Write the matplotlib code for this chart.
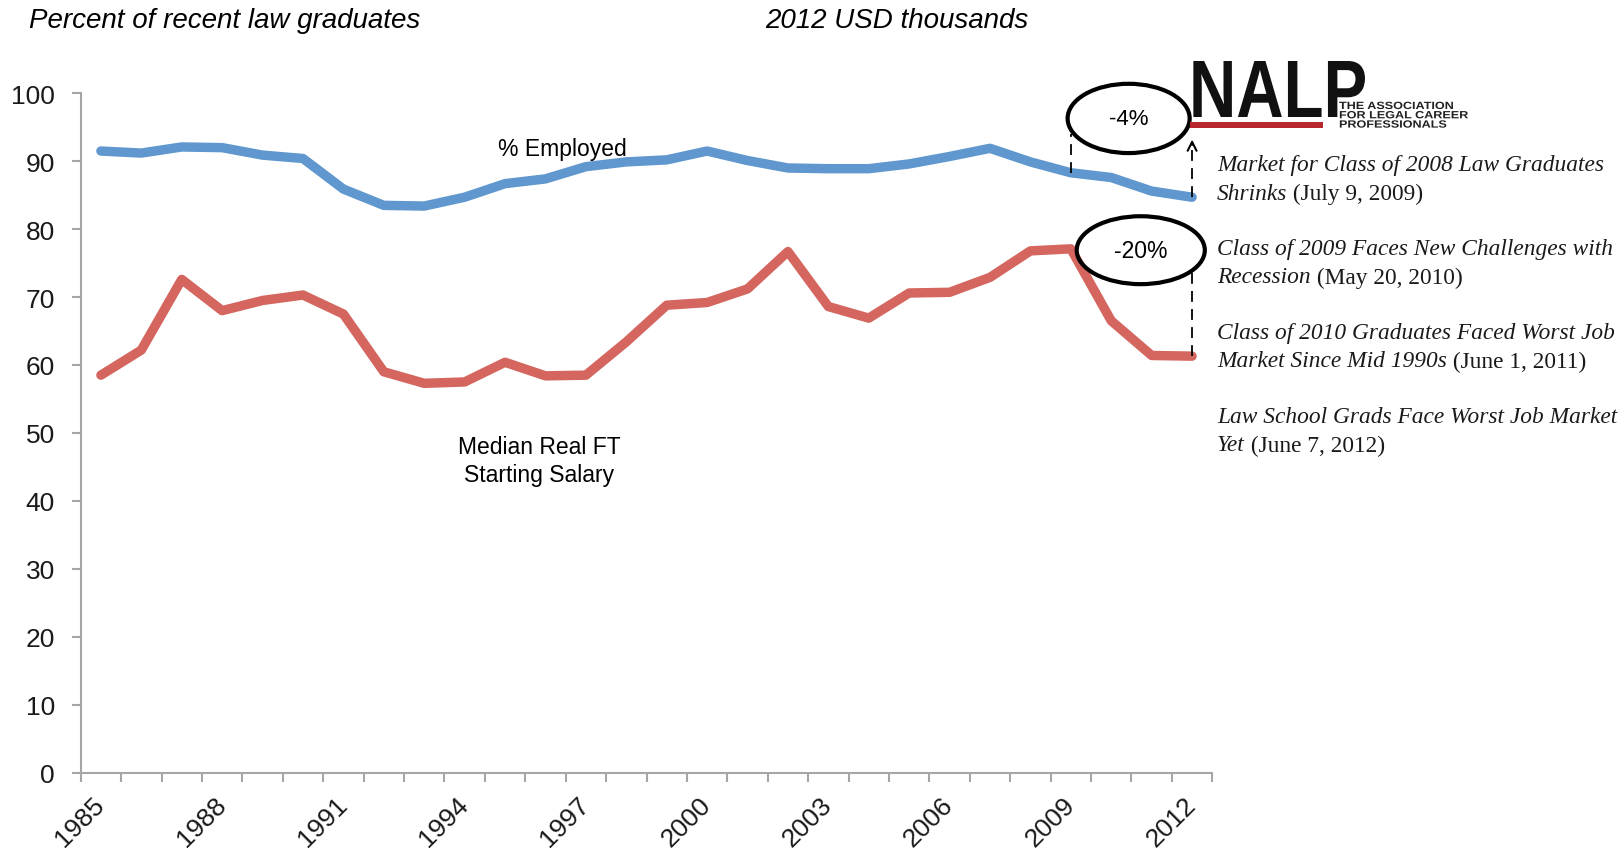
import numpy as np
import matplotlib
matplotlib.use("Agg")
import matplotlib.pyplot as plt
from matplotlib.patches import Ellipse, Rectangle, PathPatch
from matplotlib.textpath import TextPath
from matplotlib.font_manager import FontProperties
from matplotlib.path import Path

# ---------------- data ----------------
years = list(range(1985, 2013))
employed = [91.5, 91.2, 92.1, 92.0, 90.9, 90.4, 85.9, 83.5, 83.4, 84.7,
            86.7, 87.4, 89.2, 89.9, 90.2, 91.5, 90.1, 89.0, 88.9, 88.9,
            89.6, 90.7, 91.9, 89.9, 88.3, 87.6, 85.6, 84.7]
salary = [58.5, 62.2, 72.6, 68.0, 69.5, 70.3, 67.5, 59.0, 57.3, 57.5,
          60.4, 58.4, 58.5, 63.4, 68.8, 69.2, 71.2, 76.7, 68.6, 66.9,
          70.6, 70.7, 72.9, 76.8, 77.1, 66.5, 61.4, 61.3]
label_years = years[::3]
yticks = list(range(0, 101, 10))

headlines = [
    [("Market for Class of 2008 Law Graduates", "italic")],
    [("Shrinks", "italic"), (" (July 9, 2009)", "normal")],
    [("Class of 2009 Faces New Challenges with", "italic")],
    [("Recession", "italic"), (" (May 20, 2010)", "normal")],
    [("Class of 2010 Graduates Faced Worst Job", "italic")],
    [("Market Since Mid 1990s", "italic"), (" (June 1, 2011)", "normal")],
    [("Law School Grads Face Worst Job Market", "italic")],
    [("Yet", "italic"), (" (June 7, 2012)", "normal")],
]
logo_lines = ["THE ASSOCIATION", "FOR LEGAL CAREER", "PROFESSIONALS"]

# ---------------- figure ----------------
W, H = 1621, 854
fig = plt.figure(figsize=(W / 100, H / 100), dpi=100)
sans = "Liberation Sans"
serif = "Liberation Serif"

ax = fig.add_axes([80.7 / W, 1 - 773.5 / H, (1212.3 - 80.7) / W, (773.5 - 94.3) / H])
x = np.arange(len(years))
blue = "#5F97CE"
red = "#D4665F"
ax.plot(x, employed, color=blue, lw=6.8, solid_capstyle="round", solid_joinstyle="round", zorder=3)
ax.plot(x, salary, color=red, lw=6.8, solid_capstyle="round", solid_joinstyle="round", zorder=3)

ax.set_xlim(-0.5, len(years) - 0.5)
ax.set_ylim(0, 100)
for s in ["top", "right"]:
    ax.spines[s].set_visible(False)
for s in ["left", "bottom"]:
    ax.spines[s].set_color("#A6A6A6")
    ax.spines[s].set_linewidth(1.5)

ax.set_yticks(yticks)
ax.set_yticklabels([str(v) for v in yticks], fontsize=19, family=sans, color="#1a1a1a")
ax.tick_params(axis="y", direction="out", length=6.5, width=1.5, color="#A6A6A6", pad=12)

ax.set_xticks(np.arange(-0.5, len(years), 1.0))
ax.set_xticklabels([])
ax.tick_params(axis="x", which="major", direction="out", length=6.5, width=1.5, color="#A6A6A6")
lab_pos = [years.index(y) for y in label_years]
ax.set_xticks(lab_pos, minor=True)
ax.set_xticklabels([str(y) for y in label_years], minor=True, rotation=45, ha="right",
                   va="center", rotation_mode="anchor", fontsize=19, family=sans, color="#1a1a1a")
ax.tick_params(axis="x", which="minor", length=0, pad=20)

# series labels
ax.text(11.41, 91.8, "% Employed", ha="center", va="center", fontsize=16.5, family=sans)
ax.text(10.84, 45.9, "Median Real FT\nStarting Salary", ha="center", va="center",
        fontsize=16.5, family=sans, linespacing=1.25)

# change annotations
i09 = years.index(2009)
i12 = years.index(2012)
dash = (0, (6, 4))
ax.plot([i09, i09], [employed[i09], 94.0], color="black", lw=1.3, ls=dash, zorder=4, clip_on=False)
ax.plot([i12, i12], [employed[i12], 92.4], color="black", lw=1.3, ls=dash, zorder=4, clip_on=False)
ax.annotate("", xy=(i12, 93.6), xytext=(i12, 92.0),
            arrowprops=dict(arrowstyle="->", color="black", lw=1.5, mutation_scale=16),
            annotation_clip=False)
ax.plot([i12, i12], [salary[i12], 74.2], color="black", lw=1.3, ls=dash, zorder=4, clip_on=False)

e1 = Ellipse((25.43, 96.3), width=3.02, height=10.2, fill=False, ec="black", lw=3, zorder=5, clip_on=False)
e2 = Ellipse((25.73, 76.9), width=3.17, height=10.0, fill=False, ec="black", lw=3, zorder=5, clip_on=False)
ax.add_patch(e1)
ax.add_patch(e2)
ax.text(25.43, 96.3, "-4%", ha="center", va="center", fontsize=16, family=sans, zorder=6, clip_on=False)
ax.text(25.73, 76.9, "-20%", ha="center", va="center", fontsize=16.5, family=sans, zorder=6, clip_on=False)

# ---------------- overlay (pixel coordinates) ----------------
ov = fig.add_axes([0, 0, 1, 1], facecolor="none")
ov.set_xlim(0, W)
ov.set_ylim(H, 0)
ov.axis("off")

ov.text(29, 21, "Percent of recent law graduates", ha="left", va="center",
        fontsize=20, style="italic", family=sans)
ov.text(765, 21, "2012 USD thousands", ha="left", va="center",
        fontsize=20, style="italic", family=sans)

# NALP logo
fp = FontProperties(family=sans, weight="bold")
tp = TextPath((0, 0), "NALP", size=100, prop=fp)
verts = tp.vertices.copy()
bx0, by0 = verts[:, 0].min(), verts[:, 1].min()
bx1, by1 = verts[:, 0].max(), verts[:, 1].max()
X0, X1, Ytop, Ybot = 1189, 1365, 62, 118
sx = (X1 - X0) / (bx1 - bx0)
sy = (Ybot - Ytop) / (by1 - by0)
nv = np.column_stack([X0 + (verts[:, 0] - bx0) * sx, Ybot - (verts[:, 1] - by0) * sy])
ov.add_patch(PathPatch(Path(nv, tp.codes), fc="#111111", ec="none"))
ov.add_patch(Rectangle((1190, 123), 133, 5.5, fc="#B8262E", ec="none"))


def stretched_text(s, x0, baseline, em, xscale, color):
    p = TextPath((0, 0), s, size=em, prop=fp)
    v = p.vertices.copy()
    v = np.column_stack([x0 + v[:, 0] * xscale, baseline - v[:, 1]])
    ov.add_patch(PathPatch(Path(v, p.codes), fc=color, ec="none", lw=0))


for k, line in enumerate(logo_lines):
    stretched_text(line, 1339, 110 + 9.3 * k, 10.5, 1.2, "#222222")

# headlines (mixed italic / roman)
fig.canvas.draw()
renderer = fig.canvas.get_renderer()
ys = [166, 194, 250, 278, 334, 362, 418, 446]
for yy, parts in zip(ys, headlines):
    xx = 1217
    for txt, st in parts:
        t = ov.text(xx, yy, txt, ha="left", va="center", fontsize=16.8, style=st,
                    family=serif, color="#1a1a1a")
        bb = t.get_window_extent(renderer)
        xx += bb.width

fig.savefig("out.png", dpi=100)
